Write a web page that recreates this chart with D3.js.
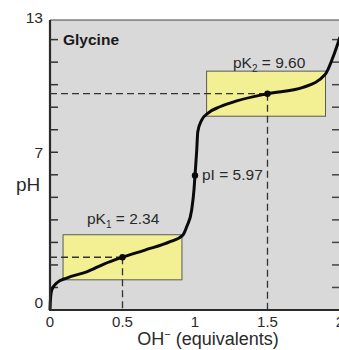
<!DOCTYPE html>
<html><head><meta charset="utf-8">
<script src="https://cdn.jsdelivr.net/npm/d3@7"></script>
<style>body{margin:0;background:#fff}svg{display:block;font-family:"Liberation Sans",Arial,sans-serif}</style>
</head><body><svg id="c" width="339" height="350"></svg>
<script>
// ---- data ----
const curveX  = [0, 0.003, 0.012, 0.046, 0.115, 0.253, 0.372, 0.5, 0.655, 0.828, 0.917, 0.945, 0.977, 0.993, 1.0, 1.012, 1.019, 1.046, 1.09, 1.172, 1.288, 1.5, 1.745, 1.897, 1.952, 2.0];
const curvePH = [0, 0.44, 0.89, 1.20, 1.42, 1.69, 2.04, 2.34, 2.66, 3.03, 3.33, 3.73, 4.44, 5.33, 5.97, 7.10, 7.90, 8.43, 8.74, 9.02, 9.28, 9.60, 9.88, 10.45, 11.23, 12.12];
const markNames = ["pK1", "pI", "pK2"];
const markX  = [0.5, 1.0, 1.5];
const markPH = [2.34, 5.97, 9.60];
const boxX0 = [0.09, 1.08], boxX1 = [0.91, 1.90];
const boxPH0 = [1.34, 8.60], boxPH1 = [3.34, 10.60];
const xTicks = [0, 0.5, 1, 1.5, 2];
const xTickLabels = ["0", "0.5", "1", "1.5", "2"];
const yLabelTicks = [0, 7, 13];
const yMinorTicks = [1,2,3,4,5,6,7,8,9,10,11,12];

// ---- layout ----
const svg = d3.select("#c");
const L = 50, R = 340, T = 20, B = 310;
const x = d3.scaleLinear().domain([0, 2]).range([L, R]);
const y = d3.scaleLinear().domain([0, 12.87]).range([B, T]);
const ink = "#2a2a2a";

svg.append("rect").attr("x", L).attr("y", T).attr("width", R - L).attr("height", B - T).attr("fill", "#d9d9d9");
svg.append("line").attr("x1", L).attr("x2", R + 5).attr("y1", T).attr("y2", T).attr("stroke", "#444").attr("stroke-width", 1.2);

// yellow buffer boxes
svg.selectAll("rect.box").data(boxX0).join("rect").attr("class", "box")
  .attr("x", (d, i) => x(boxX0[i])).attr("width", (d, i) => x(boxX1[i]) - x(boxX0[i]))
  .attr("y", (d, i) => y(boxPH1[i])).attr("height", (d, i) => y(boxPH0[i]) - y(boxPH1[i]))
  .attr("fill", "#f3ef93").attr("stroke", "#5a5a5a").attr("stroke-width", 1);

// inner ticks left & right
const tickG = svg.append("g");
tickG.selectAll("line.l").data(yMinorTicks).join("line").attr("class", "l")
  .attr("x1", L).attr("x2", L + 8).attr("y1", d => y(d)).attr("y2", d => y(d)).attr("stroke", "#333").attr("stroke-width", 1.5);
tickG.selectAll("line.r").data(yMinorTicks).join("line").attr("class", "r")
  .attr("x1", R - 8).attr("x2", R).attr("y1", d => y(d)).attr("y2", d => y(d)).attr("stroke", "#444").attr("stroke-width", 1.5);

// dashed guide lines for pK points
const pk = [0, 2];
pk.forEach(i => {
  svg.append("line").attr("x1", x(0)).attr("x2", x(markX[i])).attr("y1", y(markPH[i])).attr("y2", y(markPH[i]))
    .attr("stroke", "#333").attr("stroke-width", 1.3).attr("stroke-dasharray", "7,4");
  svg.append("line").attr("x1", x(markX[i])).attr("x2", x(markX[i])).attr("y1", y(markPH[i])).attr("y2", y(0))
    .attr("stroke", "#333").attr("stroke-width", 1.3).attr("stroke-dasharray", "7,4");
});

// titration curve
const pts = curveX.map((v, i) => [v, curvePH[i]]);
svg.append("path").datum(pts)
  .attr("d", d3.line().x(d => x(d[0])).y(d => y(d[1])).curve(d3.curveMonotoneX))
  .attr("fill", "none").attr("stroke", "#0a0a0a").attr("stroke-width", 3);

svg.selectAll("circle.m").data(markX).join("circle").attr("class", "m")
  .attr("cx", d => x(d)).attr("cy", (d, i) => y(markPH[i])).attr("r", 3.2).attr("fill", "#0a0a0a");

// axes lines
svg.append("line").attr("x1", L).attr("x2", L).attr("y1", T).attr("y2", B).attr("stroke", ink).attr("stroke-width", 2.2);
svg.append("line").attr("x1", L - 1).attr("x2", R + 5).attr("y1", B).attr("y2", B).attr("stroke", ink).attr("stroke-width", 2.2);

// tick labels
svg.selectAll("text.xt").data(xTicks).join("text").attr("class", "xt")
  .attr("x", d => x(d)).attr("y", B + 17).attr("text-anchor", "middle")
  .attr("font-size", 15).attr("fill", ink).text((d, i) => xTickLabels[i]);
svg.selectAll("text.yt").data(yLabelTicks).join("text").attr("class", "yt")
  .attr("x", L - 7).attr("y", d => d === 0 ? y(d) - 2 : y(d) + 6).attr("text-anchor", "end")
  .attr("font-size", 15.5).attr("fill", ink).text(d => d);

// axis titles
svg.append("text").attr("x", 16).attr("y", 191).attr("font-size", 19).attr("fill", ink).text("pH");
const xt = svg.append("text").attr("x", 208).attr("y", 345).attr("text-anchor", "middle").attr("font-size", 18).attr("fill", ink);
xt.append("tspan").text("OH");
xt.append("tspan").attr("dy", -7).attr("font-size", 11).text("\u2212");
xt.append("tspan").attr("dy", 7).text(" (equivalents)");

// chart label
svg.append("text").attr("x", 63).attr("y", 45).attr("font-size", 15.5).attr("font-weight", "bold").attr("fill", "#1a1a1a").text("Glycine");

// annotations
function pkLabel(px, py, sub, val) {
  const t = svg.append("text").attr("x", px).attr("y", py).attr("font-size", 15.5).attr("fill", ink);
  t.append("tspan").text("pK");
  t.append("tspan").attr("dy", 4).attr("font-size", 10).text(sub);
  t.append("tspan").attr("dy", -4).text(" = " + val);
}
pkLabel(87, 224, "1", markPH[0].toFixed(2));
pkLabel(233, 68, "2", markPH[2].toFixed(2));
svg.append("text").attr("x", x(markX[1]) + 7).attr("y", y(markPH[1]) + 5).attr("font-size", 15.5).attr("fill", ink).text("pI = " + markPH[1].toFixed(2));
</script></body></html>
